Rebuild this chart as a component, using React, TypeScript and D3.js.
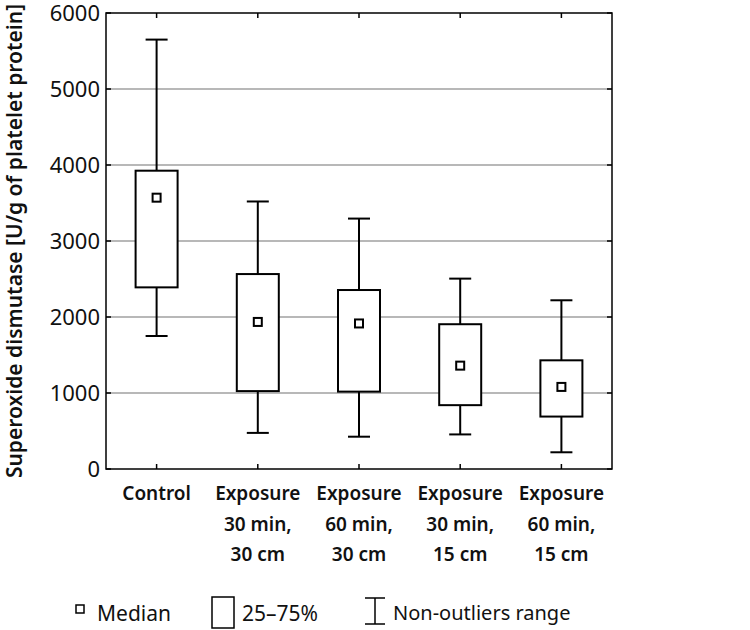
import React from "react";
import * as d3 from "d3";

const categories: string[][] = [
  ["Control"],
  ["Exposure", "30 min,", "30 cm"],
  ["Exposure", "60 min,", "30 cm"],
  ["Exposure", "30 min,", "15 cm"],
  ["Exposure", "60 min,", "15 cm"],
];
const whiskerLow = [1750, 475, 425, 455, 220];
const q1 = [2390, 1025, 1018, 840, 690];
const median = [3570, 1935, 1915, 1360, 1080];
const q3 = [3925, 2565, 2355, 1905, 1430];
const whiskerHigh = [5650, 3520, 3295, 2505, 2220];
const yTicks = [0, 1000, 2000, 3000, 4000, 5000, 6000];
const yTitle = "Superoxide dismutase [U/g of platelet protein]";
const legendLabels = ["Median", "25–75%", "Non-outliers range"];

const W = 750, H = 630;
const L = 106, R = 612, T = 13, B = 469;
const FONT = "'Noto Sans', 'Open Sans', sans-serif";

export default function App() {
  const x = d3.scaleBand<number>().domain(categories.map((_, i) => i)).range([L, R]).padding(0);
  const y = d3.scaleLinear().domain([0, 6000]).range([B, T]);
  const bw = 42, cw = 22, ms = 8, tick = 5;
  return (
    <svg width={W} height={H} style={{ position: "absolute", left: 0, top: 0 }} fontFamily={FONT}>
      <rect width={W} height={H} fill="#fff" />
      {yTicks.filter(t => t > 0 && t < 6000).map(t => (
        <line key={"g" + t} x1={L} x2={R} y1={y(t)} y2={y(t)} stroke="#a0a0a0" strokeWidth={1.5} />
      ))}
      {yTicks.map(t => (
        <g key={"t" + t}>
          <line x1={L} x2={L + tick} y1={y(t)} y2={y(t)} stroke="#000" strokeWidth={1.5} />
          <line x1={R} x2={R - tick} y1={y(t)} y2={y(t)} stroke="#000" strokeWidth={1.5} />
          <text x={100} y={y(t)} dy="0.36em" textAnchor="end" fontSize={22} fill="#111">{t}</text>
        </g>
      ))}
      {categories.map((_, i) => {
        const cx = x(i)! + x.bandwidth() / 2;
        return (
          <g key={"xt" + i}>
            <line x1={cx} x2={cx} y1={B} y2={B - tick} stroke="#000" strokeWidth={1.5} />
            <line x1={cx} x2={cx} y1={T} y2={T + tick} stroke="#000" strokeWidth={1.5} />
          </g>
        );
      })}
      <rect x={L} y={T} width={R - L} height={B - T} fill="none" stroke="#000" strokeWidth={1.5} />
      {categories.map((_, i) => {
        const cx = x(i)! + x.bandwidth() / 2;
        return (
          <g key={"b" + i} stroke="#000" strokeWidth={2}>
            <line x1={cx} x2={cx} y1={y(whiskerHigh[i])} y2={y(q3[i])} />
            <line x1={cx} x2={cx} y1={y(q1[i])} y2={y(whiskerLow[i])} />
            <line x1={cx - cw / 2} x2={cx + cw / 2} y1={y(whiskerHigh[i])} y2={y(whiskerHigh[i])} />
            <line x1={cx - cw / 2} x2={cx + cw / 2} y1={y(whiskerLow[i])} y2={y(whiskerLow[i])} />
            <rect x={cx - bw / 2} y={y(q3[i])} width={bw} height={y(q1[i]) - y(q3[i])} fill="#fff" />
            <rect x={cx - ms / 2} y={y(median[i]) - ms / 2} width={ms} height={ms} fill="#fff" strokeWidth={2} />
          </g>
        );
      })}
      {categories.map((lines, i) => {
        const cx = x(i)! + x.bandwidth() / 2;
        return (
          <text key={"c" + i} textAnchor="middle" fontSize={19} fontWeight={600} fill="#111">
            {lines.map((ln, j) => (
              <tspan key={j} x={cx} y={500 + j * 30.5}>{ln}</tspan>
            ))}
          </text>
        );
      })}
      <text transform={`translate(22,241) rotate(-90)`} textAnchor="middle" fontSize={21} fontWeight={600} fill="#111">
        {yTitle}
      </text>
      {/* legend */}
      <rect x={76} y={605} width={8} height={8} fill="#fff" stroke="#000" strokeWidth={1.5} />
      <text x={97} y={613} dy="0.36em" fontSize={21} fill="#111">{legendLabels[0]}</text>
      <rect x={212} y={597} width={22} height={31} fill="#fff" stroke="#000" strokeWidth={1.5} />
      <text x={242} y={613} dy="0.36em" fontSize={21} fill="#111">{legendLabels[1]}</text>
      <g stroke="#000" strokeWidth={1.5}>
        <line x1={365} x2={385} y1={598} y2={598} />
        <line x1={375} x2={375} y1={598} y2={624} />
        <line x1={365} x2={385} y1={624} y2={624} />
      </g>
      <text x={393} y={613} dy="0.36em" fontSize={20} fill="#111">{legendLabels[2]}</text>
    </svg>
  );
}
